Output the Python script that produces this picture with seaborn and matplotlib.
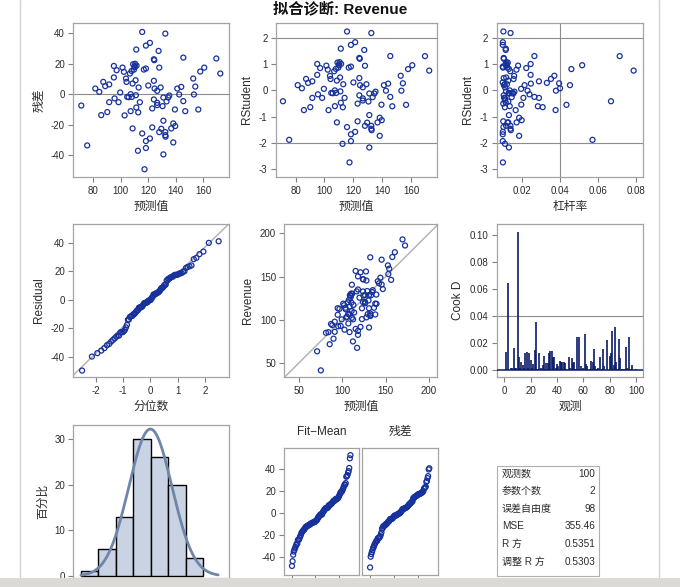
import numpy as np
import pandas as pd
import matplotlib
matplotlib.use("Agg")
import matplotlib.pyplot as plt
import seaborn as sns
from matplotlib.patches import Rectangle
from matplotlib.lines import Line2D
from statistics import NormalDist

# ---------------- data ----------------
predicted = [71.3, 75.6, 81.5, 84.4, 85.8, 87.3, 88.7, 90.2, 91.6, 91.6,
             95.0, 95.0, 95.5, 97.0, 98.4, 99.6, 101.3, 102.3, 102.8, 103.8,
             104.2, 104.7, 105.7, 106.7, 107.2, 107.2, 107.9, 108.1, 108.6, 108.6,
             109.0, 109.6, 110.0, 110.5, 110.8, 111.3, 111.3, 111.5, 111.0, 112.5,
             112.7, 113.0, 113.9, 115.6, 115.6, 116.8, 117.3, 118.3, 118.3, 118.3,
             118.3, 120.0, 121.2, 121.2, 122.9, 122.9, 124.1, 124.1, 124.1, 124.6,
             124.4, 126.5, 126.5, 126.5, 127.5, 128.0, 128.0, 129.0, 129.5, 130.4,
             131.0, 131.0, 131.0, 132.4, 132.4, 132.4, 132.6, 133.3, 134.5, 135.3,
             136.7, 138.2, 138.2, 139.4, 139.6, 141.1, 142.5, 144.0, 145.5, 145.5,
             146.9, 152.7, 153.2, 154.2, 156.4, 157.8, 160.7, 169.5, 172.4, 110.2]
residual = [-7.5, -33.8, 3.7, 1.5, -13.8, 8.1, 5.3, -11.8, 6.4, -5.3,
            18.6, 11.0, -2.8, 15.8, -5.3, 1.1, 17.5, 14.7, -14.0, 10.3,
            8.1, -1.8, -2.0, 13.6, -11.2, 0.0, 15.3, -1.8, -22.6, 7.0,
            19.7, 16.2, 18.4, 20.0, 9.2, -8.8, 29.4, 18.8, -0.7, -37.3,
            -12.0, 4.4, -5.3, 41.0, -25.9, 16.2, -49.5, 16.9, 32.0, -30.9,
            -35.5, 5.7, 33.8, -29.2, -21.9, -9.4, 23.0, 8.8, -3.5, 3.7,
            22.4, -5.7, -7.2, 2.2, 28.5, 17.5, -25.0, 4.4, -22.8, -7.9,
            -2.2, -17.5, -39.7, 39.9, -25.0, -27.0, -28.0, -4.8, -2.2, -0.9,
            -22.6, -19.3, -31.8, -10.1, -21.0, 3.7, -0.2, 4.8, -4.6, 24.1,
            -11.2, 10.3, -0.2, 5.0, -10.1, 14.9, 17.5, 23.5, 13.6, 17.8]
cooks_d = [0.0138, 0.0005, 0.065, 0.0003, 0.0015, 0.002, 0.0168, 0.0015, 0.002, 0.1025,
           0.010, 0.002, 0.006, 0.004, 0.0015, 0.013, 0.0135, 0.0015, 0.0126, 0.008,
           0.002, 0.005, 0.015, 0.036, 0.001, 0.0126, 0.0005, 0.002, 0.004, 0.011,
           0.001, 0.0057, 0.0055, 0.013, 0.014, 0.0146, 0.0096, 0.010, 0.002, 0.005,
           0.0035, 0.0067, 0.0065, 0.0065, 0.0062, 0.0055, 0.001, 0.0005, 0.0096, 0.002,
           0.0094, 0.0055, 0.0062, 0.001, 0.025, 0.0005, 0.025, 0.0035, 0.001, 0.0015,
           0.0267, 0.005, 0.0035, 0.0005, 0.001, 0.007, 0.0062, 0.0156, 0.0035, 0.001,
           0.002, 0.0005, 0.0096, 0.001, 0.0156, 0.0035, 0.0005, 0.0225, 0.0005, 0.011,
           0.013, 0.029, 0.004, 0.032, 0.006, 0.001, 0.023, 0.009, 0.001, 0.0005,
           0.001, 0.0175, 0.002, 0.0005, 0.025, 0.001, 0.004, 0.0005, 0.0003, 0.0008]
hist_edges = [-60, -45, -30, -15, 0, 15, 30, 45]
stat_labels = ["观测数", "参数个数", "误差自由度", "MSE", "R 方", "调整 R 方"]
stat_values = ["100", "2", "98", "355.46", "0.5351", "0.5303"]
panel_title = "拟合诊断: Revenue"

# ---------------- derived diagnostics ----------------
pred = np.array(predicted)
res = np.array(residual)
n = len(pred)
p = 2
revenue = pred + res
h = 1.0 / n + (pred - pred.mean()) ** 2 / np.sum((pred - pred.mean()) ** 2)
mse = np.sum(res ** 2) / (n - p)
s_i2 = ((n - p) * mse - res ** 2 / (1 - h)) / (n - p - 1)
rstudent = res / np.sqrt(s_i2 * (1 - h))
obs = np.arange(1, n + 1)
nd = NormalDist()
qq_x = np.array([nd.inv_cdf((i - 0.375) / (n + 0.25)) for i in obs])
qq_y = np.sort(res)
frac = (obs - 0.5) / n
fit_mean = np.sort(pred - pred.mean())
res_sorted = np.sort(res)

# ---------------- style ----------------
sns.set_theme(style="white")
plt.rcParams['font.family'] = ['Liberation Sans', 'Noto Sans CJK SC']
plt.rcParams['axes.unicode_minus'] = False

BLUE = '#17329c'
REF = '#8c8c8c'
FRAME = '#a3a3a3'
TXT = '#2b2b2b'

W, H = 680, 587
fig = plt.figure(figsize=(W / 100, H / 100), dpi=100)
fig.patch.set_facecolor('white')


def ax_px(x0, x1, y0, y1):
    return fig.add_axes([x0 / W, 1 - y1 / H, (x1 - x0) / W, (y1 - y0) / H])


def style(ax, xlabel=None, ylabel=None):
    ax.set_facecolor('white')
    for s in ax.spines.values():
        s.set_color(FRAME)
        s.set_linewidth(0.9)
    ax.tick_params(axis='both', which='both', direction='out', length=3.5, width=0.8,
                   color='#808080', labelsize=7, labelcolor=TXT, left=True, bottom=True,
                   top=False, right=False)
    ax.tick_params(axis='y', pad=2.5)
    ax.tick_params(axis='x', pad=3.5)
    ax.set_xlabel(xlabel if xlabel else '', fontsize=8.5, color=TXT, labelpad=3)
    ax.set_ylabel(ylabel if ylabel else '', fontsize=8.5, color=TXT, labelpad=4)
    ax.grid(False)


def scatter(ax, x, y):
    sns.scatterplot(x=x, y=y, ax=ax, marker='o', s=13, facecolor='none',
                    edgecolor=BLUE, linewidth=0.9, zorder=3, legend=False)


# Panel 1: residual vs predicted
ax1 = ax_px(73.3, 228.7, 23, 176.7)
ax1.axhline(0, color=REF, lw=0.8, zorder=1)
scatter(ax1, pred, res)
ax1.set_xlim(65.5, 178.5)
ax1.set_ylim(-54.4, 46.9)
ax1.set_xticks([80, 100, 120, 140, 160])
ax1.set_yticks([-40, -20, 0, 20, 40])
style(ax1, '预测值', '残差')

# Panel 2: RStudent vs predicted
ax2 = ax_px(276, 437.3, 23, 176.7)
for v in (-2, 2):
    ax2.axhline(v, color=REF, lw=0.8, zorder=1)
scatter(ax2, pred, rstudent)
ax2.set_xlim(66.5, 178)
ax2.set_ylim(-3.295, 2.574)
ax2.set_xticks([80, 100, 120, 140, 160])
ax2.set_yticks([-3, -2, -1, 0, 1, 2])
style(ax2, '预测值', 'RStudent')

# Panel 3: RStudent vs leverage
ax3 = ax_px(496.7, 643.3, 23, 176.7)
for v in (-2, 2):
    ax3.axhline(v, color=REF, lw=0.8, zorder=1)
ax3.axvline(0.04, color=REF, lw=0.8, zorder=1)
scatter(ax3, h, rstudent)
ax3.set_xlim(0.00684, 0.084)
ax3.set_ylim(-3.295, 2.574)
ax3.set_xticks([0.02, 0.04, 0.06, 0.08])
ax3.set_xticklabels(['0.02', '0.04', '0.06', '0.08'])
ax3.set_yticks([-3, -2, -1, 0, 1, 2])
style(ax3, '杠杆率', 'RStudent')

# Panel 4: QQ plot
ax4 = ax_px(73.3, 228.7, 224, 376.7)
xl = np.array([-2.82, 2.867])
ax4.plot(xl, res.mean() + res.std(ddof=1) * xl, color='#b5b5b5', lw=1.1, zorder=1)
scatter(ax4, qq_x, qq_y)
ax4.set_xlim(-2.82, 2.867)
ax4.set_ylim(-53.8, 53.1)
ax4.set_xticks([-2, -1, 0, 1, 2])
ax4.set_yticks([-40, -20, 0, 20, 40])
style(ax4, '分位数', 'Residual')

# Panel 5: Revenue vs predicted
ax5 = ax_px(284.3, 437.3, 224, 376.7)
ax5.plot([30, 215], [30, 215], color='#b5b5b5', lw=1.1, zorder=1)
scatter(ax5, pred, revenue)
ax5.set_xlim(33.6, 209.5)
ax5.set_ylim(34.5, 210.8)
ax5.set_xticks([50, 100, 150, 200])
ax5.set_yticks([50, 100, 150, 200])
style(ax5, '预测值', 'Revenue')

# Panel 6: Cook's D
ax6 = ax_px(496.7, 643.3, 224, 376.7)
ax6.axhline(0.04, color=REF, lw=0.8, zorder=1)
ax6.vlines(obs, 0, cooks_d, color='#0b1a68', lw=1.2, zorder=3)
ax6.axhline(0, color='#0b1a68', lw=1.1, zorder=3)
ax6.set_xlim(-5.8, 105.5)
ax6.set_ylim(-0.0047, 0.1084)
ax6.set_xticks([0, 20, 40, 60, 80, 100])
ax6.set_yticks([0, 0.02, 0.04, 0.06, 0.08, 0.10])
ax6.set_yticklabels(['0.00', '0.02', '0.04', '0.06', '0.08', '0.10'])
style(ax6, '观测', 'Cook D')

# Panel 7: histogram of residuals
ax7 = ax_px(73.3, 228.7, 425, 578)
sns.histplot(x=res, bins=hist_edges, stat='percent', ax=ax7, color='#c9d3e4',
             edgecolor='black', linewidth=1.0, alpha=1.0, zorder=2)
xs = np.linspace(-60, 58, 200)
mu, sd = res.mean(), res.std(ddof=1)
pdf = 100 * 15 * np.exp(-0.5 * ((xs - mu) / sd) ** 2) / (sd * np.sqrt(2 * np.pi))
sns.lineplot(x=xs, y=pdf, ax=ax7, color='#6f86ab', lw=2.0, zorder=4)
ax7.set_xlim(-66.6, 67.1)
ax7.set_ylim(-0.44, 33.07)
ax7.set_xticks([-52.5, -22.5, 7.5, 37.5])
ax7.set_xticklabels([])
ax7.set_yticks([0, 10, 20, 30])
style(ax7, None, '百分比')

# Panel 8: residual-fit spread plot
ax8a = ax_px(284.3, 359, 448.3, 575)
ax8b = ax_px(362.3, 438, 448.3, 575)
scatter(ax8a, frac, fit_mean)
scatter(ax8b, frac, res_sorted)
for a in (ax8a, ax8b):
    a.set_xlim(-0.125, 1.14)
    a.set_ylim(-56.4, 59.2)
    a.set_xticks([0.0, 0.4, 0.8])
    a.set_xticklabels([])
    a.set_yticks([-40, -20, 0, 20, 40])
    style(a)
ax8b.set_yticklabels([])
ax8b.tick_params(axis='y', left=False)
fig.text(321.7 / W, 1 - 431.7 / H, 'Fit\u2212Mean', ha='center', va='center',
         fontsize=8.5, color=TXT)
fig.text(400 / W, 1 - 431.7 / H, '残差', ha='center', va='center',
         fontsize=8.5, color=TXT)

# Panel 9: statistics table
fig.add_artist(Rectangle((497.3 / W, 1 - 575.7 / H), (599 - 497.3) / W, (575.7 - 465.7) / H,
                         transform=fig.transFigure, fill=False, edgecolor='#b0b0b0', lw=0.8))
for k, (lab, val) in enumerate(zip(stat_labels, stat_values)):
    yy = 1 - (473.6 + k * 17.6) / H
    fig.text(501.7 / W, yy, lab, ha='left', va='center', fontsize=7.2, color=TXT)
    fig.text(595.5 / W, yy, val, ha='right', va='center', fontsize=7.2, color=TXT)

# title
fig.text(340 / W, 1 - 9 / H, panel_title, ha='center', va='center', fontsize=11,
         fontweight='bold', color='#111111')

# frame lines and bottom strip
for xv in (19.5, 658.5):
    fig.add_artist(Line2D([xv / W, xv / W], [0, 1], transform=fig.transFigure,
                          color='#d2d2d2', lw=1.0))
fig.add_artist(Rectangle((0, 0), 1, 9 / H, transform=fig.transFigure,
                         facecolor='#dcdad6', edgecolor='none', zorder=20))

fig.savefig('out.png', dpi=100)
